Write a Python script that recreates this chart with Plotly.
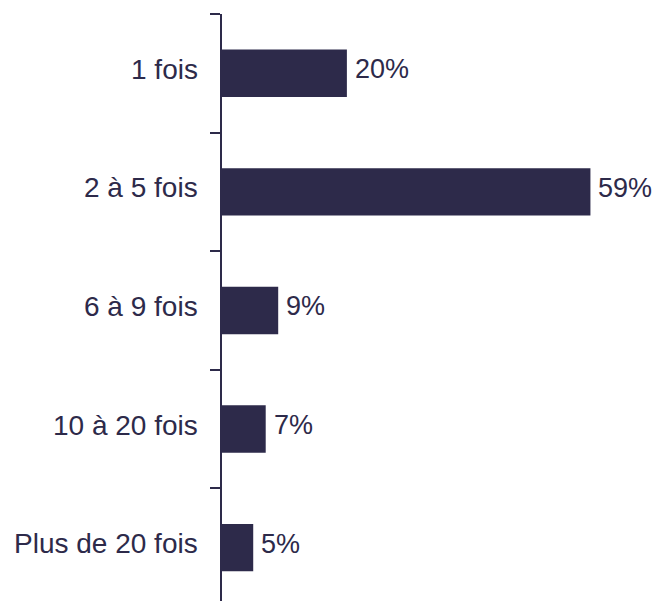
import plotly.graph_objects as go

categories = ["1 fois", "2 à 5 fois", "6 à 9 fois", "10 à 20 fois", "Plus de 20 fois"]
values = [20, 59, 9, 7, 5]
labels = ["20%", "59%", "9%", "7%", "5%"]

navy = "#2D2A4A"
FONT = "Liberation Sans, Arial"
FS = 28

fig = go.Figure(go.Bar(
    x=values, y=categories, orientation="h",
    marker=dict(color=navy, line=dict(width=0)),
    width=0.4,
    hoverinfo="skip",
))

annotations = []
for cat, v, lab in zip(categories, values, labels):
    annotations.append(dict(
        x=v, y=cat, xref="x", yref="y", text=lab, showarrow=False,
        xanchor="left", yanchor="middle", xshift=6, yshift=4,
        font=dict(family=FONT, size=27, color=navy),
    ))
    annotations.append(dict(
        x=0, y=cat, xref="x", yref="y", text=cat, showarrow=False,
        xanchor="right", yanchor="middle", xshift=-22, yshift=4,
        font=dict(family=FONT, size=FS, color=navy),
    ))

fig.update_layout(
    width=656, height=601,
    margin=dict(l=222, r=0, t=14, b=0),
    paper_bgcolor="white", plot_bgcolor="white",
    showlegend=False,
    font=dict(family=FONT, size=FS, color=navy),
    annotations=annotations,
    xaxis=dict(range=[0, 69.5], visible=False, fixedrange=True),
    yaxis=dict(
        type="category", categoryorder="array", categoryarray=categories,
        range=[4.45, -0.5],
        showline=True, linecolor=navy, linewidth=2,
        ticks="outside", tickson="boundaries", ticklen=10, tickwidth=2, tickcolor=navy,
        showticklabels=False,
        showgrid=False, zeroline=False,
    ),
)

fig.write_html(
    "out.html",
    config={"displayModeBar": False},
    post_script="document.body.style.margin='0';document.body.style.overflow='hidden';",
)
